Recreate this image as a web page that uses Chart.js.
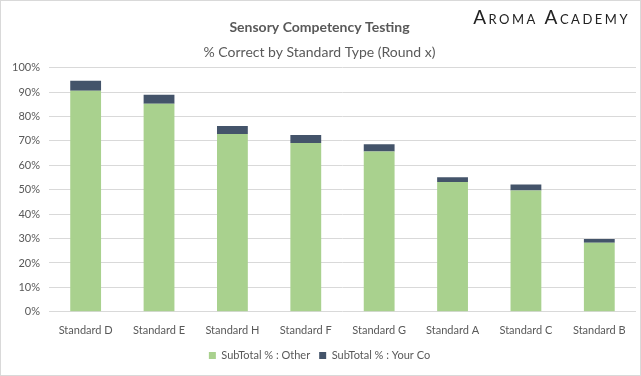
<!DOCTYPE html>
<html lang="en">
<head>
  <meta charset="UTF-8" />
  <title>Sensory Competency Testing</title>
  <script src="https://cdn.jsdelivr.net/npm/chart.js"></script>
  <style>
    html,body{margin:0;padding:0;background:#fff}
    .wrap{position:relative;width:641px;height:376px;box-sizing:border-box;border:1px solid #d9d9d9}
    .logo{position:absolute;top:4px;right:10px;font-family:Lato,"Noto Sans",sans-serif;font-size:19px;
      font-variant:small-caps;letter-spacing:2.5px;color:#222}
  </style>
</head>
<body>
  <div class="wrap">
    <canvas id="chart" width="639" height="374"></canvas>
    <div class="logo">Aroma Academy</div>
  </div>

  <script>
  const standards = ['Standard D','Standard E','Standard H','Standard F','Standard G','Standard A','Standard C','Standard B'];
  const otherPct  = [90.5, 85.2, 72.8, 69.1, 65.6, 53.2, 49.7, 28.3];
  const yourCoPct = [4.1, 3.7, 3.3, 3.3, 3.0, 1.9, 2.4, 1.5];
  const yTicks    = [0,10,20,30,40,50,60,70,80,90,100];

  const txt = '#595959';
  Chart.defaults.font.family = 'Lato, "Noto Sans", sans-serif';
  Chart.defaults.color = txt;

  new Chart(document.getElementById('chart'), {
    type:'bar',
    data:{
      labels:standards,
      datasets:[
        {label:'SubTotal % : Other', data:otherPct, backgroundColor:'#a9d18e'},
        {label:'SubTotal % : Your Co', data:yourCoPct, backgroundColor:'#44546a'}
      ]
    },
    options:{
      responsive:false,
      animation:false,
      barPercentage:0.42,
      categoryPercentage:1,
      layout:{padding:{left:2,right:4,top:14,bottom:4}},
      plugins:{
        title:{display:true,text:'Sensory Competency Testing',color:txt,
          font:{size:14,weight:'bold'},padding:{top:4,bottom:8}},
        subtitle:{display:true,text:'% Correct by Standard Type (Round x)',color:txt,
          font:{size:14},padding:{bottom:7}},
        legend:{position:'bottom',labels:{boxWidth:7,boxHeight:7,color:txt,font:{size:11},padding:9}},
        tooltip:{callbacks:{label:c=>`${c.dataset.label}: ${c.parsed.y}%`}}
      },
      scales:{
        x:{stacked:true,grid:{display:false},border:{display:false},
          ticks:{color:txt,font:{size:11},padding:4}},
        y:{stacked:true,min:0,max:100,
          afterBuildTicks:a=>{a.ticks=yTicks.map(v=>({value:v}));},
          grid:{color:'#d9d9d9',drawTicks:false},border:{display:false},
          ticks:{color:txt,font:{size:11},padding:9,callback:v=>v+'%'}}
      }
    }
  });
  </script>
</body>
</html>
